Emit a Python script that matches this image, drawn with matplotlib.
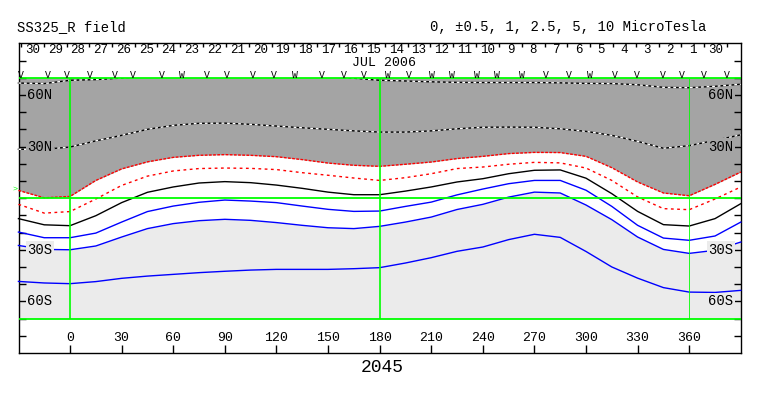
import numpy as np
import matplotlib
matplotlib.use("Agg")
import matplotlib.pyplot as plt
from matplotlib.patches import Rectangle

plt.rcParams['font.family'] = ['Liberation Mono', 'DejaVu Sans Mono']

lon = [-30, -15, 0, 15, 30, 45, 60, 75, 90, 105, 120, 135, 150, 165, 180,
       195, 210, 225, 240, 255, 270, 285, 300, 315, 330, 345, 360, 375, 390]

# contour latitudes (deg) at each lon, microtesla levels
pos_five = [66.9, 66.6, 68.5, 68.9, 69.8, 70.8, 71.5, 72.0, 72.0, 72.0, 71.5, 71.0, 70.5, 69.7, 68.5,
            68.1, 67.6, 67.3, 67.2, 67.2, 67.2, 67.0, 66.7, 66.6, 65.9, 64.4, 64.2, 65.0, 66.2]
pos_two5 = [28.4, 28.4, 29.7, 33.3, 36.5, 40.0, 42.3, 43.5, 43.6, 42.9, 41.9, 40.9, 40.0, 39.1, 38.4,
            38.4, 39.1, 40.3, 41.2, 41.3, 41.2, 40.3, 38.8, 36.5, 33.0, 29.0, 30.5, 33.6, 36.8]
pos_one = [4.5, 0.2, 1.0, 10.3, 17.0, 21.1, 23.7, 24.9, 25.3, 24.9, 24.1, 22.4, 20.4, 19.1, 18.5,
           19.7, 21.0, 23.0, 24.3, 25.9, 26.6, 26.5, 24.3, 17.7, 9.4, 3.0, 1.4, 8.0, 15.2]
pos_half = [-3.6, -8.7, -7.8, -0.5, 7.4, 12.8, 15.8, 17.2, 17.5, 17.3, 16.6, 14.8, 13.3, 11.7, 10.3,
            11.9, 14.2, 17.2, 18.1, 19.7, 20.8, 20.5, 17.5, 10.3, 0.7, -6.1, -6.7, -0.5, 6.5]
zero_line = [-11.9, -15.5, -16.0, -10.2, -2.6, 3.4, 6.5, 8.8, 9.6, 9.0, 7.6, 5.7, 3.5, 2.0, 2.0,
             4.1, 6.5, 9.4, 11.3, 14.2, 16.2, 16.4, 11.6, 2.6, -7.7, -15.4, -16.2, -11.9, -3.2]
neg_half = [-19.7, -23.0, -23.0, -20.3, -13.9, -7.8, -4.6, -2.4, -1.1, -1.7, -2.6, -4.6, -6.5, -7.7, -7.5,
            -4.8, -2.3, 1.9, 5.3, 8.4, 10.3, 10.3, 4.6, -4.8, -15.8, -23.2, -24.5, -22.0, -13.9]
neg_one = [-27.5, -29.8, -30.0, -27.8, -22.6, -17.7, -14.8, -13.1, -12.3, -12.9, -14.2, -15.8, -17.2, -17.7, -16.4,
           -13.9, -11.0, -6.6, -3.6, 0.6, 3.5, 3.0, -4.0, -12.5, -22.6, -29.8, -32.1, -30.3, -25.5]
neg_two5 = [-48.4, -49.3, -49.7, -48.5, -46.6, -45.3, -44.3, -43.3, -42.5, -41.8, -41.4, -41.4, -41.4, -41.0, -40.4,
            -37.7, -34.6, -30.9, -28.4, -24.1, -21.0, -22.8, -31.0, -40.0, -46.5, -52.0, -54.6, -54.8, -53.6]

# top strip: day boundaries (lon) and the day numbers between them
day_edges = [-28.7, -14.9, -1.9, 11.2, 24.6, 37.8, 50.8, 64.0, 77.5, 90.7, 104.1, 117.3, 130.3,
             143.5, 156.6, 170.0, 183.2, 196.4, 209.4, 222.9, 236.1, 249.5, 262.7, 275.9, 289.2,
             302.4, 315.4, 329.0, 342.2, 355.4, 368.3, 381.9]
day_labels = ['30', '29', '28', '27', '26', '25', '24', '23', '22', '21', '20', '19', '18', '17', '16',
              '15', '14', '13', '12', '11', '10', '9', '8', '7', '6', '5', '4', '3', '2', '1', '30']

# observation markers along the top
mark_lon = [-28.7, -12.6, -1.9, 11.6, 25.8, 36.8, 53.3, 65.0, 79.5, 91.1, 106.6, 118.6, 130.9,
            146.4, 159.0, 170.6, 185.1, 196.8, 210.4, 222.0, 236.5, 248.2, 262.7, 276.7, 289.8,
            302.0, 316.5, 329.5, 344.4, 355.7, 368.4, 382.0]
mark_kind = ['V', 'V', 'V', 'V', 'V', 'V', 'V', 'W', 'V', 'V', 'V', 'V', 'W', 'V', 'V', 'V',
             'W', 'V', 'W', 'W', 'W', 'W', 'W', 'V', 'V', 'W', 'V', 'V', 'V', 'V', 'V', 'V']

lon_ticks = [0, 30, 60, 90, 120, 150, 180, 210, 240, 270, 300, 330, 360]
lat_ticks = [-80, -70, -60, -50, -40, -30, -20, -10, 0, 10, 20, 30, 40, 50, 60, 70, 80]
lat_label_pos = [60, 30, -30, -60]
lat_labels = ['60N', '30N', '30S', '60S']

dark = '#a4a4a4'
light = '#ebebeb'
green = '#00ff00'

W, H = 763, 396
fig = plt.figure(figsize=(W / 100, H / 100), dpi=100)
ax = fig.add_axes([19.3 / W, 1 - 353 / H, (741 - 19.3) / W, (353 - 43.3) / H])
ax.set_xlim(-29.5, 390.1)
ax.set_ylim(-90, 90)
for s in ax.spines.values():
    s.set_linewidth(1.0)

clip = Rectangle((-40, -70), 440, 140, transform=ax.transData)

# shaded polarity regions
ax.fill_between(lon, pos_one, 70, color=dark, lw=0, zorder=1)
ax.fill_between(lon, -70, neg_one, color=light, lw=0, zorder=1)

def contour(lat, color, dashes=None, lw=1.0):
    ln, = ax.plot(lon, lat, color=color, lw=lw, zorder=3)
    if dashes is not None:
        ln.set_dashes(dashes)
    ln.set_clip_path(clip)
    return ln

# black/white dashed for the strong positive levels
for lat in (pos_five, pos_two5):
    contour(lat, 'black')
    contour(lat, 'white', dashes=(2, 2))
contour(pos_one, 'red', dashes=(2, 1))
contour(pos_half, 'red', dashes=(2, 2.5))
contour(zero_line, 'black')
contour(neg_half, 'blue')
contour(neg_one, 'blue')
contour(neg_two5, 'blue')

# green reference lines
for y in (70, 0, -70):
    ax.axhline(y, color=green, lw=1.3, zorder=4)
ax.vlines([0, 180], -70, 70, color=green, lw=1.2, zorder=4)
ax.vlines(360, -70, 70, color=green, lw=0.6, zorder=4)

# axis ticks
ax.set_xticks(lon_ticks)
ax.set_xticklabels([str(v) for v in lon_ticks], fontsize=9.5)
ax.tick_params(axis='x', direction='in', length=6, width=1, pad=-15)
ax.set_yticks(lat_ticks)
ax.tick_params(axis='y', direction='in', length=5, width=1, left=True, right=True,
               labelleft=False, labelright=False)

for lat, txt in zip(lat_label_pos, lat_labels):
    bg = dark if lat > 0 else light
    box = dict(boxstyle='square,pad=0.1', fc=bg, ec='none')
    ax.text(-25, lat, txt, fontsize=10, ha='left', va='center', bbox=box, zorder=5)
    ax.text(385.6, lat, txt, fontsize=10, ha='right', va='center', bbox=box, zorder=5)

# date strip
ax.vlines(day_edges, 87.6, 90, color='black', lw=1)
centers = [(a + b) / 2 for a, b in zip(day_edges[:-1], day_edges[1:])]
for c, d in zip(centers, day_labels):
    ax.text(c, 86.3, d, fontsize=9, ha='center', va='center')
ax.text(182.3, 78.3, 'JUL 2006', fontsize=9.5, ha='center', va='center')
for m, k in zip(mark_lon, mark_kind):
    ax.text(m, 71.7, k, fontsize=7, ha='center', va='center', zorder=5)

ax.text(-30.5, 5.5, '>', color=green, fontsize=6, ha='right', va='center', clip_on=False)

fig.text(17 / W, 1 - 27 / H, 'SS325_R field', fontsize=10, ha='left', va='center')
fig.text(430 / W, 1 - 27 / H, '0, \u00b10.5, 1, 2.5, 5, 10 MicroTesla', fontsize=10,
         ha='left', va='center')
fig.text(382 / W, 1 - 367 / H, '2045', fontsize=13, ha='center', va='center')

fig.savefig('out.png', dpi=100, facecolor='white')
